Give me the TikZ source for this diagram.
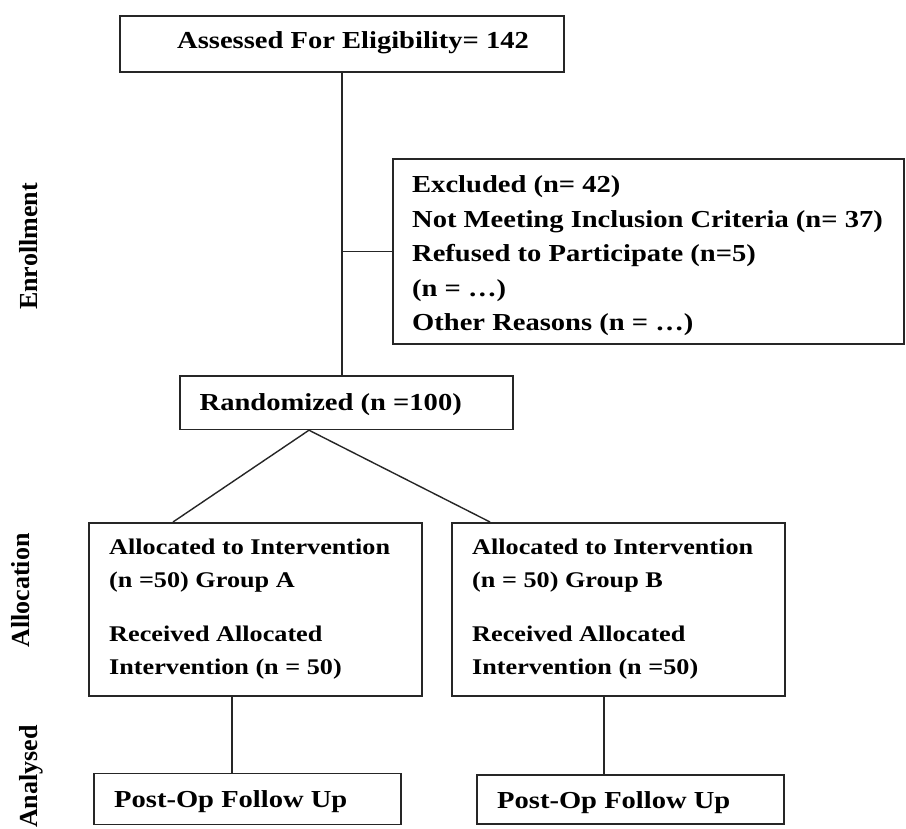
\documentclass[tikz,border=0pt]{standalone}
\usepackage{fontspec}
\setmainfont{Liberation Serif}[FakeStretch=1.17]
\newfontfamily\sidefont{Liberation Serif}
\begin{document}
\begin{tikzpicture}[x=1pt,y=-1pt,
  box/.style={draw=black!85, line width=1.7pt, inner sep=0pt, anchor=north west, rectangle},
  conn/.style={draw=black!85, line width=1.4pt},
  txt/.style={inner sep=0pt, anchor=base west, font=\fontsize{24.4}{29}\selectfont\bfseries},
  atxt/.style={inner sep=0pt, anchor=base west, font=\fontsize{22.4}{27}\selectfont\bfseries},
  side/.style={inner sep=0pt, anchor=base, rotate=90, font=\sidefont\fontsize{26}{30}\selectfont\bfseries}]
\useasboundingbox (0,0) rectangle (906,829);
\fill[white] (0,0) rectangle (906,829);

% boxes
\node[box, minimum width=444pt, minimum height=56pt] (assess) at (119,15) {};
\node[box, minimum width=511pt, minimum height=185pt] (excl) at (392,158) {};
\node[box, minimum width=333pt, minimum height=53pt] (rand) at (179,375.5) {};
\node[box, minimum width=333pt, minimum height=173pt] (boxA) at (88,522) {};
\node[box, minimum width=333pt, minimum height=173pt] (boxB) at (451,522) {};
\node[box, minimum width=307pt, minimum height=51pt] (postA) at (93,772.5) {};
\node[box, minimum width=307pt, minimum height=49pt] (postB) at (476,774) {};

% texts
\node[txt] (tassess) at (177,49) {Assessed For Eligibility= 142};
\node[txt] (ex1) at (412,193) {Excluded (n= 42)};
\node[txt] (ex2) at (412,227.5) {Not Meeting Inclusion Criteria (n= 37)};
\node[txt] (ex3) at (412,262) {Refused to Participate (n=5)};
\node[txt] (ex4) at (412,296.5) {(n = \dots)};
\node[txt] (ex5) at (412,331) {Other Reasons (n = \dots)};
\node[txt] (trand) at (199.5,410) {Randomized (n =100)};

\node[atxt] (a1) at (109,554) {Allocated to Intervention};
\node[atxt] (a2) at (109,587) {(n =50) Group A};
\node[atxt] (a3) at (109,641) {Received Allocated};
\node[atxt] (a4) at (109,674) {Intervention (n = 50)};
\node[atxt] (b1) at (472,554) {Allocated to Intervention};
\node[atxt] (b2) at (472,587) {(n = 50) Group B};
\node[atxt] (b3) at (472,641) {Received Allocated};
\node[atxt] (b4) at (472,674) {Intervention (n =50)};

\node[txt] (tpa) at (114,807) {Post-Op Follow Up};
\node[txt] (tpb) at (497,808) {Post-Op Follow Up};

% side labels
\node[side] (enr) at (37,246.5) {Enrollment};
\node[side] (alloc) at (29,590.5) {Allocation};
\node[side] (anal) at (37,776.5) {Analysed};

% connectors
\draw[conn] (assess.south) -- (assess.south |- rand.north);
\draw[conn] (assess.south |- excl.west) -- (excl.west);
\draw[conn] ([xshift=85pt]boxA.north west) -- ([xshift=130pt]rand.south west) -- ([xshift=39pt]boxB.north west);
\draw[conn] ([xshift=144pt]boxA.south west) -- ([xshift=144pt]boxA.south west |- postA.north);
\draw[conn] ([xshift=153pt]boxB.south west) -- ([xshift=153pt]boxB.south west |- postB.north);
\end{tikzpicture}
\end{document}
